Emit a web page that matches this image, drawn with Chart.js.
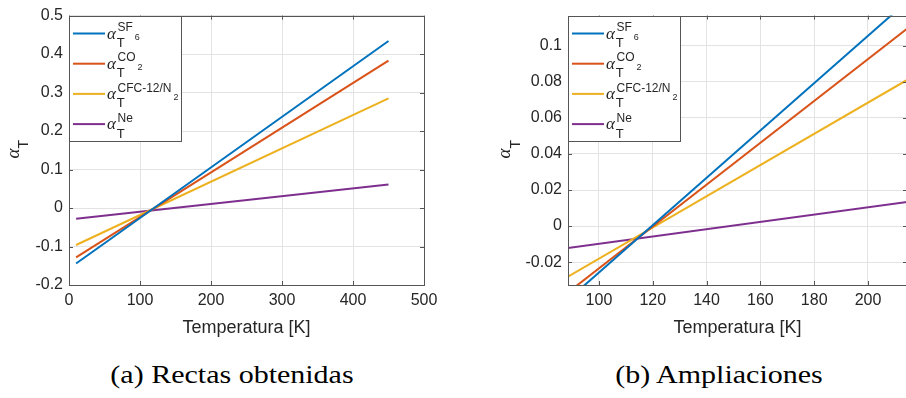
<!DOCTYPE html>
<html>
<head>
<meta charset="utf-8">
<script src="https://cdn.jsdelivr.net/npm/chart.js@4.4.1/dist/chart.umd.min.js"></script>
<style>
    html, body { margin: 0; padding: 0; background: #fff; }
    #figure { position: relative; width: 906px; height: 398px; overflow: hidden; background: #fff; }
    .panel { position: absolute; top: 0; height: 350px; }
    #panelA { left: 0; width: 450px; }
    #panelB { left: 450px; width: 470px; }
    .caption {
        position: absolute; top: 362px; width: 400px; text-align: center;
        font-family: 'Liberation Serif', 'Times New Roman', serif;
        font-size: 25px; line-height: 25px; color: #000; white-space: nowrap;
        transform: scaleX(1.2); transform-origin: center;
    }
    #capA { left: 32px; }
    #capB { left: 519px; }
</style>
</head>
<body>
<div id="figure">
    <div class="panel" id="panelA"><canvas id="chartA" width="450" height="350"></canvas></div>
    <div class="panel" id="panelB"><canvas id="chartB" width="470" height="350"></canvas></div>
    <div class="caption" id="capA">(a) Rectas obtenidas</div>
    <div class="caption" id="capB">(b) Ampliaciones</div>
</div>
<script>
// data (straight lines, end points only)
const temperatures = [10, 450];
const alphaSF6 = [-0.144, 0.434];
const alphaCO2 = [-0.128, 0.383];
const alphaCFC = [-0.096, 0.285];
const alphaNe = [-0.028, 0.061];

// legend pieces: alpha_T^{sup_supSub}
const seriesSup = ['SF', 'CO', 'CFC-12/N', 'Ne'];
const seriesSupSub = ['6', '2', '2', ''];

// tick values / labels
const ticksAX = [0, 100, 200, 300, 400, 500];
const ticksAY = [-0.2, -0.1, 0, 0.1, 0.2, 0.3, 0.4, 0.5];
const labelsAY = ['-0.2', '-0.1', '0', '0.1', '0.2', '0.3', '0.4', '0.5'];
const ticksBX = [100, 120, 140, 160, 180, 200];
const ticksBY = [-0.02, 0, 0.02, 0.04, 0.06, 0.08, 0.1];
const labelsBY = ['-0.02', '0', '0.02', '0.04', '0.06', '0.08', '0.1'];

const seriesColors = ['#0072BD', '#D95319', '#EDB120', '#7E2F8E'];
const SANS = "'Liberation Sans', Arial, sans-serif";
const SERIF = "'Liberation Serif', 'Times New Roman', serif";
const ink = '#262626';
const axisColor = '#555555';
const gridColor = '#e3e3e3';

function buildDatasets() {
    return [alphaSF6, alphaCO2, alphaCFC, alphaNe].map((vals, i) => ({
        label: seriesSup[i] + seriesSupSub[i],
        data: temperatures.map((t, k) => ({ x: t, y: vals[k] })),
        borderColor: seriesColors[i],
        borderWidth: 2,
        pointRadius: 0,
        fill: false,
        clip: 0
    }));
}

// box + inside tick marks (MATLAB style)
const boxPlugin = {
    id: 'box',
    afterDatasetsDraw(chart) {
        const { ctx, chartArea: a, scales } = chart;
        ctx.save();
        ctx.strokeStyle = axisColor;
        ctx.lineWidth = 1;
        ctx.beginPath();
        scales.x.ticks.forEach(t => {
            const px = Math.round(scales.x.getPixelForValue(t.value)) + 0.5;
            ctx.moveTo(px, a.bottom); ctx.lineTo(px, a.bottom - 4);
            ctx.moveTo(px, a.top); ctx.lineTo(px, a.top + 4);
        });
        scales.y.ticks.forEach(t => {
            const py = Math.round(scales.y.getPixelForValue(t.value)) + 0.5;
            ctx.moveTo(a.left, py); ctx.lineTo(a.left + 4, py);
            ctx.moveTo(a.right, py); ctx.lineTo(a.right - 4, py);
        });
        ctx.stroke();
        ctx.strokeRect(Math.round(a.left) + 0.5, Math.round(a.top) + 0.5,
            Math.round(a.right - a.left), Math.round(a.bottom - a.top));
        ctx.restore();
    }
};

// alpha_T y-axis title and legend with super/subscripts
const texPlugin = {
    id: 'tex',
    afterDraw(chart) {
        const { ctx, chartArea: a } = chart;
        const opts = chart.options.plugins.tex;
        ctx.save();
        ctx.fillStyle = ink;
        ctx.textBaseline = 'alphabetic';
        ctx.textAlign = 'left';

        // y title, rotated
        const cy = (a.top + a.bottom) / 2 - 1;
        ctx.save();
        ctx.translate(a.left - opts.titleOffset, cy);
        ctx.rotate(-Math.PI / 2);
        ctx.font = `italic 19px ${SERIF}`;
        const aw = ctx.measureText('α').width;
        ctx.font = `14px ${SANS}`;
        const tw = ctx.measureText('T').width;
        const x0 = -(aw + tw) / 2;
        ctx.font = `italic 19px ${SERIF}`;
        ctx.fillText('α', x0, 0);
        ctx.font = `14px ${SANS}`;
        ctx.fillText('T', x0 + aw, 9.5);
        ctx.restore();

        // legend
        const lx = Math.round(a.left), ly = Math.round(a.top);
        ctx.fillStyle = '#fff';
        ctx.fillRect(lx, ly, 112, 125);
        ctx.strokeStyle = axisColor;
        ctx.lineWidth = 1;
        ctx.strokeRect(lx + 0.5, ly + 0.5, 112, 125);
        chart.data.datasets.forEach((ds, i) => {
            const yc = ly + 17.5 + i * 30.2;
            ctx.strokeStyle = ds.borderColor;
            ctx.lineWidth = 2;
            ctx.beginPath();
            ctx.moveTo(lx + 4, yc);
            ctx.lineTo(lx + 36, yc);
            ctx.stroke();
            ctx.fillStyle = ink;
            ctx.font = `italic 17px ${SERIF}`;
            ctx.fillText('α', lx + 38, yc + 5);
            ctx.font = `13px ${SANS}`;
            ctx.fillText('T', lx + 47.8, yc + 13.4);
            ctx.font = `12px ${SANS}`;
            ctx.fillText(seriesSup[i], lx + 48.5, yc - 2.4);
            const sw = ctx.measureText(seriesSup[i]).width;
            if (seriesSupSub[i]) {
                ctx.font = `9px ${SANS}`;
                ctx.fillText(seriesSupSub[i], lx + 48.5 + sw + 2, yc + 6.5);
            }
        });
        ctx.restore();
    }
};

function makeChart(id, cfg) {
    const ctx = document.getElementById(id).getContext('2d');
    return new Chart(ctx, {
        type: 'line',
        data: { datasets: buildDatasets() },
        plugins: [boxPlugin, texPlugin],
        options: {
            responsive: false,
            animation: false,
            layout: { padding: { left: 0, top: 11, right: cfg.padRight, bottom: 0 } },
            plugins: {
                legend: { display: false },
                tooltip: { enabled: false },
                tex: { titleOffset: cfg.titleOffset }
            },
            scales: {
                x: {
                    type: 'linear',
                    min: cfg.xMin,
                    max: cfg.xMax,
                    afterBuildTicks: s => { s.ticks = cfg.xTicks.map(v => ({ value: v })); },
                    afterFit: s => { s.height = 65; },
                    grid: { color: gridColor, drawTicks: false },
                    border: { display: false },
                    ticks: {
                        autoSkip: false, maxRotation: 0, padding: 6,
                        color: ink, font: { family: SANS, size: 16 },
                        callback: v => String(v)
                    },
                    title: {
                        display: true, text: 'Temperatura [K]', color: ink,
                        font: { family: SANS, size: 18 },
                        padding: { top: 0, bottom: 11 }
                    }
                },
                y: {
                    min: cfg.yMin,
                    max: cfg.yMax,
                    afterBuildTicks: s => { s.ticks = cfg.yTicks.map(v => ({ value: v })); },
                    afterFit: s => { s.width = cfg.yWidth; },
                    grid: { color: gridColor, drawTicks: false },
                    border: { display: false },
                    ticks: {
                        autoSkip: false, padding: 6,
                        color: ink, font: { family: SANS, size: 16 },
                        callback: (v, i) => cfg.yLabels[i]
                    }
                }
            }
        }
    });
}

makeChart('chartA', {
    xMin: 0, xMax: 500, yMin: -0.2, yMax: 0.5,
    xTicks: ticksAX, yTicks: ticksAY, yLabels: labelsAY,
    yWidth: 69, padRight: 26, titleOffset: 50.5
});

makeChart('chartB', {
    xMin: 88.5, xMax: 214.5, yMin: -0.0327, yMax: 0.1168,
    xTicks: ticksBX, yTicks: ticksBY, yLabels: labelsBY,
    yWidth: 118, padRight: 13, titleOffset: 58
});
</script>
</body>
</html>
